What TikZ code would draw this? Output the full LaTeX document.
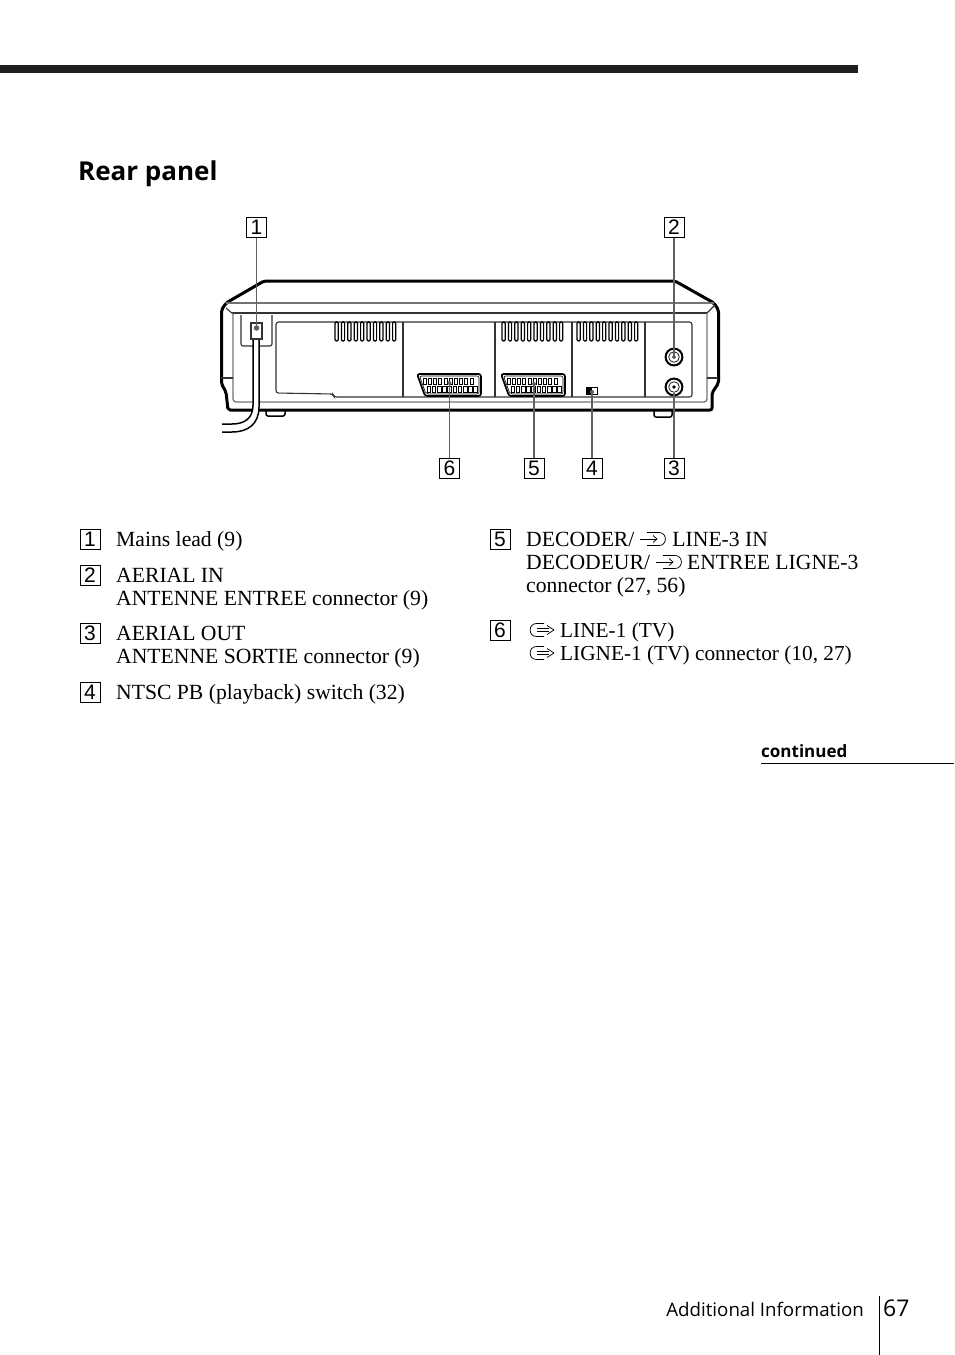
\documentclass[tikz,border=0pt]{standalone}
\usepackage{fontspec}
\setmainfont{Liberation Serif}
\newfontfamily\headfont{Open Sans}
\newfontfamily\numfont{Liberation Sans}
\begin{document}
\begin{tikzpicture}[x=1pt,y=-1pt,
  numbox/.style={draw=black,line width=1pt,minimum width=20pt,minimum height=20pt,inner sep=0pt,font=\numfont\fontsize{21}{21}\selectfont},
  body/.style={anchor=base west,inner sep=0pt,font=\fontsize{21.65}{23}\selectfont},
  bodyb/.style={anchor=base west,inner sep=0pt,font=\fontsize{21.3}{23}\selectfont},
  leader/.style={draw=black!62,line width=2pt},
  leaderthin/.style={draw=black!62,line width=1.5pt},
  thick outline/.style={draw=black,line width=3pt,line join=round},
  thinline/.style={draw=black!80,line width=1.1pt},
  greyline/.style={draw=black!55,line width=1.3pt},
  vent/.style={draw=black,line width=1.2pt,rounded corners=1.2pt},
  icon/.style={draw=black,line width=0.75pt,line join=round}]
\useasboundingbox (0,0) rectangle (954,1355);
\fill[black!88] (0,65) rectangle (858,73);
\node[anchor=base west,inner sep=0pt,font=\headfont\bfseries\fontsize{26}{26}\selectfont] (title) at (78,180) {Rear panel};

% VCR body
\draw[thick outline,rounded corners=2pt] (264,281) -- (675,281) -- (714,303) -- (718.5,310) -- (718.5,383) -- (712,393) -- (712,410) -- (228,410) -- (226,392) -- (221.5,384) -- (221.5,310) -- (226,303) -- cycle;
\draw[greyline] (226,303) -- (714,303);
\draw[thinline,line width=1.3pt] (232,313) -- (707,313);
\draw[thinline] (226,308) -- (233,314);
\draw[thinline] (715,305) -- (707,313);
\draw[greyline,rounded corners=3pt] (233,313) -- (233,402) -- (707,402) -- (707,313);
\draw[thinline] (221,378) -- (233,378);
\draw[thinline] (707,378) -- (718,378);
\draw[thinline,rounded corners=2.5pt] (276,393) -- (276,322) -- (692,322) -- (692,397) -- (334,397) -- (333,394) -- cycle;
\foreach \x in {403,495,572,645} \draw[thinline] (\x,322) -- (\x,397);
% feet
\draw[line width=1.5pt,rounded corners=2pt] (266,411) -- (266,416) -- (285,416) -- (285,411);
\draw[line width=1.5pt,rounded corners=2pt] (654,411) -- (654,417) -- (672,417) -- (672,411);
% power inlet
\draw[thinline,rounded corners=2pt] (241,315) -- (241,346) -- (272,346) -- (272,315);
\draw[thinline,line width=1.4pt] (251,323) rectangle (262,339);
% cable
\fill[white] (253,340) rectangle (259,412);
\draw[line width=1.5pt] (253,340) -- (253,405) .. controls (253,418) and (245,424) .. (232,424) -- (222,424);
\draw[line width=1.5pt] (259,340) -- (259,407) .. controls (259,424) and (248,432) .. (232,432) -- (222,432);
% vents
\foreach \sx in {335,502,577}
  \foreach \k in {0,...,9}
    \draw[vent] ({\sx+\k*6.4},322) rectangle ({\sx+\k*6.4+3.2},341);
% scart connectors
\foreach \sx in {417,501}{
  \draw[line width=1.7pt,rounded corners=2.5pt] (\sx,374) -- ({\sx+64},374) -- ({\sx+64},396) -- ({\sx+8},396) -- cycle;
  \draw[line width=0.6pt,rounded corners=2pt] ({\sx+2.5},376) -- ({\sx+62},376) -- ({\sx+62},394) -- ({\sx+9},394) -- cycle;
  \foreach \k in {0,...,9}{
    \draw[line width=0.6pt] ({\sx+6+\k*5.2},378) rectangle ({\sx+9+\k*5.2},384);
    \draw[line width=0.8pt] ({\sx+10+\k*5.2},386) rectangle ({\sx+13.6+\k*5.2},392);
  }
}
% switch
\draw[line width=0.7pt] (586,387) rectangle (597,394);
\fill (586,387) rectangle (591.5,394);
% coax sockets
\foreach \cy in {357,387}{
  \draw[line width=2pt,fill=white] (674,\cy) circle (8.4);
  \draw[line width=0.7pt] (674,\cy) circle (5.3);
  \fill (674,\cy) circle (1.9);
}

% numbered boxes
\node[numbox] (n1) at (256.5,227.5) {1};
\node[numbox] (n2) at (674,227.5) {2};
\node[numbox] (n6) at (449.5,468.5) {6};
\node[numbox] (n5) at (534,468.5) {5};
\node[numbox] (n4) at (592,468.5) {4};
\node[numbox] (n3) at (674,468.5) {3};
\coordinate (p1) at (256.5,328);
\coordinate (p2) at (674,357);
\coordinate (p3) at (674,393);
\coordinate (p4) at (592,392);
\coordinate (p5) at (534,384);
\coordinate (p6) at (449.5,383);
\draw[leaderthin] (n1) -- (p1);
\fill[black!62] (p1) circle (2.8);
\draw[leaderthin] (n2) -- (p2);
\fill[black!62] (p2) circle (1.8);
\draw[leader] (n3) -- (p3);
\draw[leader] (n4) -- (p4);
\fill[black!62] (p4) circle (2);
\draw[leader] (n5) -- (p5);
\fill[black!62] (p5) circle (2);
\draw[leaderthin] (n6) -- (p6);
\fill[black!62] (p6) circle (2);

% list, left column
\node[numbox] (l1) at (90,539) {1};
\node[body] (t1) at (116,546) {Mains lead (9)};
\node[numbox] (l2) at (90,575) {2};
\node[body] (t2a) at (116,582) {AERIAL IN};
\node[body] (t2b) at (116,605) {ANTENNE ENTREE connector (9)};
\node[numbox] (l3) at (90,633) {3};
\node[body] (t3a) at (116,640) {AERIAL OUT};
\node[body] (t3b) at (116,663) {ANTENNE SORTIE connector (9)};
\node[numbox] (l4) at (90,692) {4};
\node[body] (t4) at (116,699) {NTSC PB (playback) switch (32)};
% list, right column
\node[numbox] (l5) at (500,539) {5};
\node[body] (t5a) at (526,546) {DECODER/\hspace{38pt}LINE-3 IN};
\node[body] (t5b) at (526,569) {DECODEUR/\hspace{37pt}ENTREE LIGNE-3};
\node[body] (t5c) at (526,592) {connector (27, 56)};
\node[numbox] (l6) at (500,630) {6};
\node[bodyb] (t6a) at (560,637) {LINE-1 (TV)};
\node[bodyb] (t6b) at (560,660) {LIGNE-1 (TV) connector (10, 27)};

% line in / line out symbols
\foreach \ix/\iy in {640/539,656/562}{
  \draw[icon] ({\ix+7},{\iy-6.5}) -- ({\ix+19},{\iy-6.5}) .. controls ({\ix+27.5},{\iy-6.5}) and ({\ix+27.5},{\iy+6.5}) .. ({\ix+19},{\iy+6.5}) -- ({\ix+7},{\iy+6.5});
  \draw[icon] ({\ix},{\iy}) -- ({\ix+17},{\iy});
  \draw[icon] ({\ix+13},{\iy-3.5}) -- ({\ix+17},{\iy}) -- ({\ix+13},{\iy+3.5});
}
\foreach \ix/\iy in {530/630,530/653}{
  \draw[icon] ({\ix+14},{\iy-6.5}) -- ({\ix+6.5},{\iy-6.5}) .. controls ({\ix-2},{\iy-6.5}) and ({\ix-2},{\iy+6.5}) .. ({\ix+6.5},{\iy+6.5}) -- ({\ix+14},{\iy+6.5});
  \draw[icon] ({\ix+7},{\iy-1.5}) -- ({\ix+19},{\iy-1.5});
  \draw[icon] ({\ix+7},{\iy+1.5}) -- ({\ix+19},{\iy+1.5});
  \draw[icon] ({\ix+17},{\iy-4.5}) -- ({\ix+24},{\iy}) -- ({\ix+17},{\iy+4.5});
}

% continued
\node[anchor=base west,inner sep=0pt,font=\headfont\bfseries\fontsize{17}{17}\selectfont] (cont) at (761,757) {continued};
\coordinate (cr) at (954,763.5);
\draw[line width=1.6pt] (761,763.5) -- (cr);
% footer
\node[anchor=base east,inner sep=0pt,font=\headfont\fontsize{18.7}{19}\selectfont] (foot) at (864,1316) {Additional Information};
\node[anchor=base west,inner sep=0pt,font=\headfont\fontsize{23}{23}\selectfont] (page) at (883,1316) {67};
\draw[line width=1pt] (879,1296) -- (879,1355);
\end{tikzpicture}
\end{document}
